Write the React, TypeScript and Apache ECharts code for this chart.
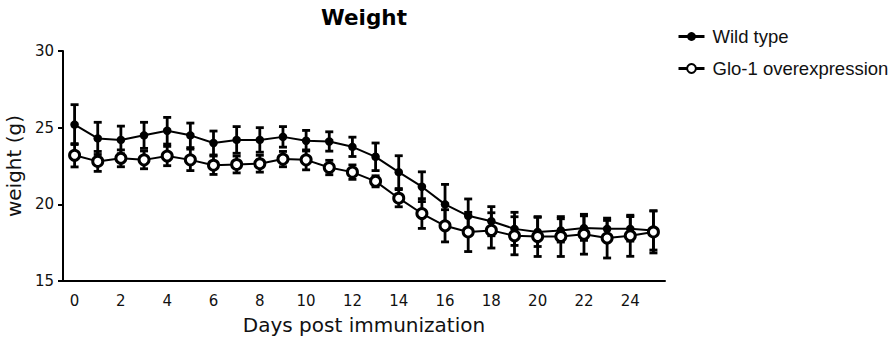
import React, { useEffect, useRef } from "react";
import * as echarts from "echarts";

const days = ["0","1","2","3","4","5","6","7","8","9","10","11","12","13","14","15","16","17","18","19","20","21","22","23","24","25"];
const wtMean = [25.2, 24.3, 24.2, 24.5, 24.8, 24.5, 24.0, 24.2, 24.2, 24.4, 24.15, 24.1, 23.75, 23.1, 22.1, 21.15, 20.0, 19.25, 18.9, 18.4, 18.2, 18.3, 18.45, 18.4, 18.4, 18.3];
const wtErr = [1.3, 1.05, 0.9, 0.85, 0.87, 0.8, 0.78, 0.87, 0.8, 0.67, 0.67, 0.63, 0.63, 0.9, 1.07, 0.97, 1.3, 1.1, 0.95, 1.08, 0.95, 0.76, 0.8, 0.55, 0.8, 1.28];
const gloMean = [23.2, 22.8, 23.0, 22.9, 23.15, 22.9, 22.55, 22.6, 22.65, 22.95, 22.9, 22.4, 22.1, 21.5, 20.4, 19.4, 18.6, 18.2, 18.3, 17.95, 17.9, 17.9, 18.05, 17.8, 17.95, 18.2];
const gloErr = [0.76, 0.65, 0.55, 0.58, 0.63, 0.7, 0.6, 0.55, 0.55, 0.5, 0.65, 0.47, 0.47, 0.36, 0.56, 0.97, 1.05, 1.28, 1.15, 1.24, 1.3, 1.3, 1.3, 1.3, 1.34, 1.37];
const yTicks = [15, 20, 25, 30];

const tickFont = "'DejaVu Sans', Verdana, sans-serif";
const legendFont = "'Liberation Sans', Arial, sans-serif";

function errorData(mean: number[], err: number[]) {
  return mean.map((m, i) => [i, m - err[i], m + err[i]]);
}

function errorRender(params: any, api: any) {
  const x = api.value(0);
  const lo = api.coord([x, api.value(1)]);
  const hi = api.coord([x, api.value(2)]);
  const half = 4;
  const style = { stroke: "#000", lineWidth: 2.8, fill: null };
  return {
    type: "group",
    children: [
      { type: "line", shape: { x1: lo[0], y1: lo[1], x2: hi[0], y2: hi[1] }, style },
      { type: "line", shape: { x1: hi[0] - half, y1: hi[1], x2: hi[0] + half, y2: hi[1] }, style },
      { type: "line", shape: { x1: lo[0] - half, y1: lo[1], x2: lo[0] + half, y2: lo[1] }, style },
    ],
  };
}

export default function App() {
  const ref = useRef<HTMLDivElement>(null);
  useEffect(() => {
    if (!ref.current) return;
    const chart = echarts.init(ref.current, null, { renderer: "svg" });
    chart.setOption({
      animation: false,
      backgroundColor: "#fff",
      title: {
        text: "Weight",
        left: 364,
        top: 6,
        textAlign: "center",
        padding: 0,
        textStyle: { fontFamily: tickFont, fontWeight: "bold", fontSize: 21.5, color: "#000" },
      },
      legend: {
        orient: "vertical",
        left: 672,
        top: 22,
        itemWidth: 26,
        itemHeight: 11,
        itemGap: 13,
        data: ["Wild type", "Glo-1 overexpression"],
        lineStyle: { width: 3 },
        textStyle: { fontFamily: legendFont, fontSize: 18.5, color: "#111", padding: [0, 0, 0, 3] },
      },
      grid: { left: 63, top: 51, right: 229, bottom: 61, containLabel: false, outerBoundsMode: "none" },
      xAxis: {
        type: "category",
        data: days,
        boundaryGap: true,
        name: "Days post immunization",
        nameLocation: "middle",
        nameGap: 34,
        nameTextStyle: { fontFamily: tickFont, fontSize: 20, color: "#111" },
        axisLine: { lineStyle: { color: "#000", width: 2 } },
        axisTick: { alignWithLabel: true, interval: 1, length: 5, lineStyle: { color: "#000", width: 2 } },
        axisLabel: { interval: 1, margin: 12, fontFamily: tickFont, fontSize: 15, color: "#111" },
        splitLine: { show: false },
      },
      yAxis: {
        type: "value",
        min: yTicks[0],
        max: yTicks[yTicks.length - 1],
        interval: 5,
        name: "weight (g)",
        nameLocation: "middle",
        nameGap: 33,
        nameTextStyle: { fontFamily: tickFont, fontSize: 20, color: "#111" },
        axisLine: { show: true, lineStyle: { color: "#000", width: 2 } },
        axisTick: { show: true, length: 5, lineStyle: { color: "#000", width: 2 } },
        axisLabel: { margin: 9, fontFamily: tickFont, fontSize: 15, color: "#111" },
        splitLine: { show: false },
      },
      series: [
        {
          name: "Wild type SEM",
          type: "custom",
          renderItem: errorRender,
          data: errorData(wtMean, wtErr),
          encode: { x: 0, y: [1, 2] },
          itemStyle: { color: "#000" },
          z: 1,
          silent: true,
        },
        {
          name: "Glo-1 overexpression SEM",
          type: "custom",
          renderItem: errorRender,
          data: errorData(gloMean, gloErr),
          encode: { x: 0, y: [1, 2] },
          itemStyle: { color: "#000" },
          z: 1,
          silent: true,
        },
        {
          name: "Wild type",
          type: "line",
          data: wtMean,
          symbol: "circle",
          symbolSize: 8.5,
          lineStyle: { color: "#000", width: 2 },
          itemStyle: { color: "#000", borderColor: "#000", borderWidth: 0 },
          z: 3,
        },
        {
          name: "Glo-1 overexpression",
          type: "line",
          data: gloMean,
          symbol: "circle",
          symbolSize: 10,
          lineStyle: { color: "#000", width: 2 },
          itemStyle: { color: "#fff", borderColor: "#000", borderWidth: 3 },
          z: 4,
        },
      ],
    });
    return () => chart.dispose();
  }, []);
  return <div ref={ref} style={{ position: "fixed", left: 0, top: 0, width: 894, height: 342 }} />;
}
